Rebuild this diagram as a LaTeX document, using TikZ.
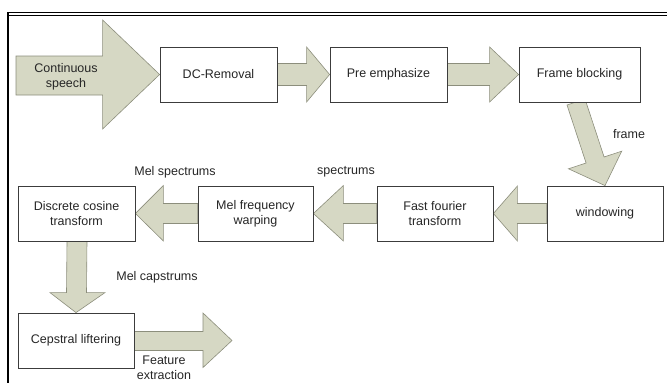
\documentclass[tikz,border=0pt]{standalone}
\usepackage{fontspec}
\setmainfont{Liberation Sans}
\usetikzlibrary{calc,backgrounds}
\definecolor{arrfill}{HTML}{D6D8C4}
\definecolor{arrline}{HTML}{8C8E7C}
\definecolor{boxline}{HTML}{3C3C3C}
\definecolor{txt}{HTML}{262626}
\tikzset{
  stagebox/.style={draw=boxline, line width=0.8pt, fill=white, minimum height=55pt, align=center, text=txt, font=\fontsize{12.5}{15}\selectfont, inner sep=0pt},
  barrow/.style={fill=arrfill, draw=arrline, line width=0.6pt, line join=miter},
  lbl/.style={text=txt, font=\fontsize{12.5}{15}\selectfont, align=center, inner sep=0pt}
}
\begin{document}
\begin{tikzpicture}[x=1pt,y=-1pt]
\useasboundingbox (0,0) rectangle (667,383);
% frame
\draw[line width=1.6pt, black] (8,12.5) -- (667,12.5);
\draw[line width=0.7pt, black] (8,15.5) -- (667,15.5);
\draw[line width=1.6pt, black] (8,12) -- (8,383);
% boxes
\node[stagebox, minimum width=117pt] (dc) at (218.5,74.5) {DC-Removal};
\node[stagebox, minimum width=117pt] (pre) at (388.5,74.5) {Pre emphasize};
\node[stagebox, minimum width=121pt] (fb) at (579.5,74.5) {Frame blocking};
\node[stagebox, minimum width=116pt] (win) at (605,213.5) {windowing};
\node[stagebox, minimum width=116pt] (fft) at (435,213.5) {Fast fourier\\transform};
\node[stagebox, minimum width=115pt] (mel) at (255.5,213.5) {Mel frequency\\warping};
\node[stagebox, minimum width=117pt] (dct) at (76.5,213.5) {Discrete cosine\\transform};
\node[stagebox, minimum width=116pt] (cep) at (76,340.5) {Cepstral liftering};
\coordinate (cs) at (16,75);
\coordinate (feat) at (232,340.5);
\begin{scope}[on background layer]
% continuous speech
\draw[barrow] ($(cs)+(0,-19)$) -- ($(dc.west)+(-57,-18.5)$) -- ($(dc.west)+(-57,-54.5)$) -- (dc.west) -- ($(dc.west)+(-57,54.5)$) -- ($(dc.west)+(-57,20.5)$) -- ($(cs)+(0,20)$) -- cycle;
% dc -> pre
\draw[barrow] ($(dc.east)+(0,-11)$) -- ($(pre.west)+(-23,-11)$) -- ($(pre.west)+(-23,-27.5)$) -- (pre.west) -- ($(pre.west)+(-23,27.5)$) -- ($(pre.west)+(-23,11)$) -- ($(dc.east)+(0,11)$) -- cycle;
% pre -> fb
\draw[barrow] ($(pre.east)+(0,-11)$) -- ($(fb.west)+(-29,-11)$) -- ($(fb.west)+(-29,-27.5)$) -- (fb.west) -- ($(fb.west)+(-29,27.5)$) -- ($(fb.west)+(-29,11)$) -- ($(pre.east)+(0,11)$) -- cycle;
% fb -> win (diagonal)
\draw[barrow] (585,99) -- (604.1,157) -- (621.7,151.2) -- (win.north) -- (568.5,168.8) -- (586.1,163) -- (567,105) -- cycle;
% win -> fft
\draw[barrow] ($(win.west)+(0,-10)$) -- ($(fft.east)+(24,-10)$) -- ($(fft.east)+(24,-27.5)$) -- (fft.east) -- ($(fft.east)+(24,27.5)$) -- ($(fft.east)+(24,10)$) -- ($(win.west)+(0,10)$) -- cycle;
% fft -> mel
\draw[barrow] ($(fft.west)+(0,-10)$) -- ($(mel.east)+(30,-10)$) -- ($(mel.east)+(30,-28)$) -- (mel.east) -- ($(mel.east)+(30,27.5)$) -- ($(mel.east)+(30,10)$) -- ($(fft.west)+(0,10)$) -- cycle;
% mel -> dct
\draw[barrow] ($(mel.west)+(0,-10)$) -- ($(dct.east)+(28,-10)$) -- ($(dct.east)+(28,-28)$) -- (dct.east) -- ($(dct.east)+(28,27.5)$) -- ($(dct.east)+(28,10)$) -- ($(mel.west)+(0,10)$) -- cycle;
% dct -> cep
\draw[barrow] ($(dct.south)+(-9.5,0)$) -- ($(cep.north)+(-9.5,-20)$) -- ($(cep.north)+(-26,-20)$) -- (cep.north) -- ($(cep.north)+(29,-20)$) -- ($(cep.north)+(10.5,-20)$) -- ($(dct.south)+(10.5,0)$) -- cycle;
% feature extraction
\draw[barrow] ($(cep.east)+(0,-9)$) -- ($(feat)+(-29,-9)$) -- ($(feat)+(-29,-27.5)$) -- (feat) -- ($(feat)+(-29,27)$) -- ($(feat)+(-29,10)$) -- ($(cep.east)+(0,10)$) -- cycle;
\end{scope}
% labels
\node[lbl] (lcs) at (66,76.5) {Continuous\\speech};
\node[lbl] (lframe) at (629,134) {frame};
\node[lbl] (lspec) at (346,172) {spectrums};
\node[lbl] (lmelspec) at (175,172) {Mel spectrums};
\node[lbl] (lmelcap) at (157,277) {Mel capstrums};
\node[lbl] (lfeat) at (164,367.5) {Feature\\extraction};
\end{tikzpicture}
\end{document}
